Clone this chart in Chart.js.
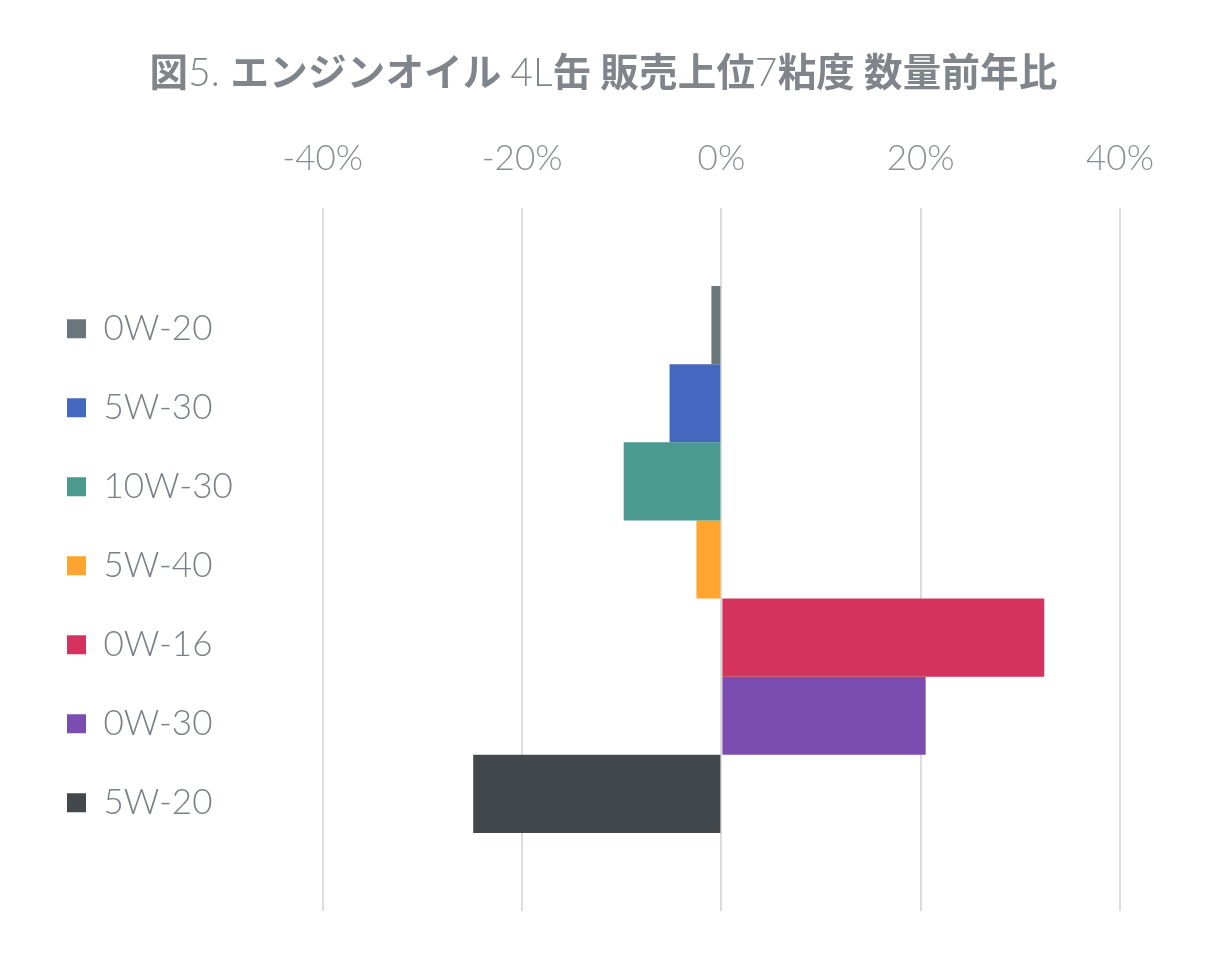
<!DOCTYPE html>
<html>
<head>
<meta charset="utf-8">
<script src="https://cdn.jsdelivr.net/npm/chart.js@4.4.1/dist/chart.umd.min.js"></script>
<style>
  html, body { margin: 0; padding: 0; background: #ffffff; }
  #wrap { position: relative; width: 1207px; height: 962px; }
  #title {
    position: absolute; left: 0; top: 50px; width: 1207px; height: 38px;
    line-height: 38px; text-align: center; color: #80848b;
    font-family: "Noto Sans CJK JP", "Noto Sans", sans-serif; font-weight: 700; font-size: 38.5px;
    letter-spacing: 0.2px;
    white-space: nowrap;
  }
  #title .lt { font-family: Lato, "Noto Sans", sans-serif; font-weight: 300; }
  canvas { position: absolute; left: 0; top: 0; }
</style>
</head>
<body>
<div id="wrap">
  <canvas id="c" width="1207" height="962"></canvas>
  <div id="title">図<span class="lt">5. </span>エンジンオイル <span class="lt">4L</span>缶 販売上位<span class="lt">7</span>粘度 数量前年比</div>
</div>
<script>
const categories = ['0W-20', '5W-30', '10W-30', '5W-40', '0W-16', '0W-30', '5W-20'];
const values = [-1.0, -5.2, -9.8, -2.5, 32.4, 20.5, -24.9];
const colors = ['#6b757c', '#4467c0', '#4a9a8f', '#ffa42e', '#d4335f', '#7c4db0', '#43484d'];
const axisMin = -40;
const axisMax = 40;
const axisStep = 20;

const datasets = categories.map((name, i) => ({
  label: name,
  data: [values[i]],
  backgroundColor: colors[i],
  borderWidth: 0,
  categoryPercentage: 7 / 9,
  barPercentage: 1.0
}));

new Chart(document.getElementById('c'), {
  type: 'bar',
  data: { labels: [''], datasets: datasets },
  options: {
    indexAxis: 'y',
    responsive: false,
    animation: false,
    devicePixelRatio: 1,
    layout: { padding: { top: 110, bottom: 51, right: 87, left: 23 } },
    plugins: {
      title: { display: false },
      tooltip: { enabled: false },
      legend: {
        position: 'left',
        fullSize: false,
        align: 'center',
        title: { display: true, text: ' ', padding: 5, font: { size: 2 } },
        labels: {
          boxWidth: 19,
          boxHeight: 19,
          padding: 44,
          color: '#7b8088',
          font: { family: 'Lato', weight: '300', size: 35 }
        }
      }
    },
    scales: {
      x: {
        position: 'top',
        min: axisMin,
        max: axisMax,
        border: { display: false },
        grid: { color: '#dcdcdc', lineWidth: 2, drawTicks: false },
        ticks: {
          stepSize: axisStep,
          padding: 28,
          color: '#8a8f95',
          font: { family: 'Lato', weight: '300', size: 35 },
          callback: v => v + '%'
        }
      },
      y: {
        display: true,
        border: { display: false },
        grid: { display: false },
        ticks: { display: false },
        afterFit: s => { s.width = 80; }
      }
    }
  }
});
</script>
</body>
</html>
